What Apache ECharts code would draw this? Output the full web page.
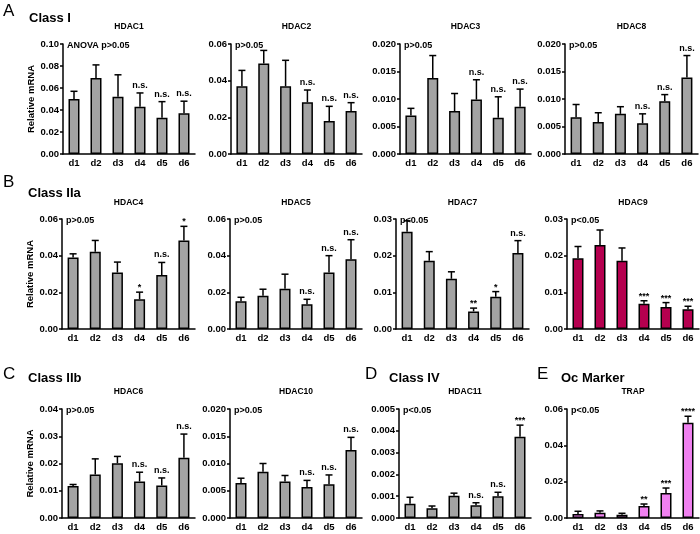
<!DOCTYPE html>
<html><head><meta charset="utf-8">
<script src="https://cdn.jsdelivr.net/npm/echarts@6/dist/echarts.min.js"></script>
<style>html,body{margin:0;padding:0;background:#fff}#c{width:700px;height:534px}</style>
</head><body><div id="c"></div><script>
const days = ['d1','d2','d3','d4','d5','d6'];

const hdac1Mean = [0.050, 0.069, 0.052, 0.043, 0.033, 0.037];
const hdac1Sem  = [0.007, 0.012, 0.020, 0.0125, 0.0146, 0.011];
const hdac1Sig  = ['', '', '', 'n.s.', 'n.s.', 'n.s.'];

const hdac2Mean = [0.0369, 0.0493, 0.0369, 0.0282, 0.018, 0.0235];
const hdac2Sem  = [0.0087, 0.0072, 0.0142, 0.0067, 0.008, 0.0045];
const hdac2Sig  = ['', '', '', 'n.s.', 'n.s.', 'n.s.'];

const hdac3Mean = [0.0070, 0.0138, 0.0078, 0.0099, 0.0066, 0.0086];
const hdac3Sem  = [0.0013, 0.0041, 0.0032, 0.0036, 0.0038, 0.0032];
const hdac3Sig  = ['', '', '', 'n.s.', 'n.s.', 'n.s.'];

const hdac8Mean = [0.0067, 0.0058, 0.0073, 0.0056, 0.0096, 0.0139];
const hdac8Sem  = [0.0023, 0.0017, 0.0013, 0.0017, 0.0012, 0.0040];
const hdac8Sig  = ['', '', '', 'n.s.', 'n.s.', 'n.s.'];

const hdac4Mean = [0.0390, 0.0421, 0.0308, 0.0162, 0.0294, 0.0483];
const hdac4Sem  = [0.0020, 0.0062, 0.0057, 0.0039, 0.0069, 0.0077];
const hdac4Sig  = ['', '', '', '*', 'n.s.', '*'];

const hdac5Mean = [0.0151, 0.0182, 0.0219, 0.0135, 0.0308, 0.0381];
const hdac5Sem  = [0.0022, 0.0035, 0.0080, 0.0027, 0.0092, 0.0106];
const hdac5Sig  = ['', '', '', 'n.s.', 'n.s.', 'n.s.'];

const hdac7Mean = [0.0265, 0.0186, 0.0137, 0.0048, 0.0088, 0.0207];
const hdac7Sem  = [0.0030, 0.0025, 0.0019, 0.0009, 0.0014, 0.0034];
const hdac7Sig  = ['', '', '', '**', '*', 'n.s.'];

const hdac9Mean = [0.0193, 0.0229, 0.0186, 0.0069, 0.0060, 0.0054];
const hdac9Sem  = [0.0032, 0.0041, 0.0035, 0.0008, 0.0012, 0.0008];
const hdac9Sig  = ['', '', '', '***', '***', '***'];

const hdac6Mean = [0.0117, 0.0160, 0.0201, 0.0134, 0.0119, 0.0221];
const hdac6Sem  = [0.0006, 0.0057, 0.0025, 0.0034, 0.0028, 0.0087];
const hdac6Sig  = ['', '', '', 'n.s.', 'n.s.', 'n.s.'];

const hdac10Mean = [0.0064, 0.0085, 0.0067, 0.0057, 0.0062, 0.0125];
const hdac10Sem  = [0.0009, 0.0015, 0.0011, 0.0012, 0.0017, 0.0023];
const hdac10Sig  = ['', '', '', 'n.s.', 'n.s.', 'n.s.'];

const hdac11Mean = [0.00065, 0.00045, 0.00102, 0.00058, 0.00100, 0.00373];
const hdac11Sem  = [0.00030, 0.00010, 0.00012, 0.00012, 0.00018, 0.00053];
const hdac11Sig  = ['', '', '', 'n.s.', 'n.s.', '***'];

const trapMean = [0.0022, 0.0029, 0.0018, 0.0066, 0.0138, 0.0525];
const trapSem  = [0.0015, 0.0010, 0.0008, 0.0011, 0.0027, 0.0035];
const trapSig  = ['', '', '', '**', '***', '****'];

const GRAY = '#a3a3a3', CRIMSON = '#b5004f', VIOLET = '#ef80ef';
const FONT = "'Liberation Sans', Arial, sans-serif";

const panels = [
  {name:'HDAC1', mean:hdac1Mean, sem:hdac1Sem, sig:hdac1Sig, stat:'ANOVA p>0.05', max:0.10, interval:0.02, dec:2, color:GRAY, ylab:true},
  {name:'HDAC2', mean:hdac2Mean, sem:hdac2Sem, sig:hdac2Sig, stat:'p>0.05', max:0.06, interval:0.02, dec:2, color:GRAY},
  {name:'HDAC3', mean:hdac3Mean, sem:hdac3Sem, sig:hdac3Sig, stat:'p>0.05', max:0.020, interval:0.005, dec:3, color:GRAY},
  {name:'HDAC8', mean:hdac8Mean, sem:hdac8Sem, sig:hdac8Sig, stat:'p>0.05', max:0.020, interval:0.005, dec:3, color:GRAY},
  {name:'HDAC4', mean:hdac4Mean, sem:hdac4Sem, sig:hdac4Sig, stat:'p>0.05', max:0.06, interval:0.02, dec:2, color:GRAY, ylab:true},
  {name:'HDAC5', mean:hdac5Mean, sem:hdac5Sem, sig:hdac5Sig, stat:'p>0.05', max:0.06, interval:0.02, dec:2, color:GRAY},
  {name:'HDAC7', mean:hdac7Mean, sem:hdac7Sem, sig:hdac7Sig, stat:'p<0.05', max:0.03, interval:0.01, dec:2, color:GRAY},
  {name:'HDAC9', mean:hdac9Mean, sem:hdac9Sem, sig:hdac9Sig, stat:'p<0.05', max:0.03, interval:0.01, dec:2, color:CRIMSON},
  {name:'HDAC6', mean:hdac6Mean, sem:hdac6Sem, sig:hdac6Sig, stat:'p>0.05', max:0.04, interval:0.01, dec:2, color:GRAY, ylab:true},
  {name:'HDAC10', mean:hdac10Mean, sem:hdac10Sem, sig:hdac10Sig, stat:'p>0.05', max:0.020, interval:0.005, dec:3, color:GRAY},
  {name:'HDAC11', mean:hdac11Mean, sem:hdac11Sem, sig:hdac11Sig, stat:'p<0.05', max:0.005, interval:0.001, dec:3, color:GRAY},
  {name:'TRAP', mean:trapMean, sem:trapSem, sig:trapSig, stat:'p<0.05', max:0.06, interval:0.02, dec:2, color:VIOLET}
];

const layout = [
  {left:63, top:44, width:132, height:110, ty:27},
  {left:231, top:44, width:131, height:110, ty:27},
  {left:400, top:44, width:131, height:110, ty:27},
  {left:565, top:44, width:133, height:110, ty:27},
  {left:62, top:219, width:133, height:110, ty:203},
  {left:230, top:219, width:132, height:110, ty:203},
  {left:396, top:219, width:133, height:110, ty:203},
  {left:567, top:219, width:132, height:110, ty:203},
  {left:62, top:409, width:133, height:109, ty:392},
  {left:230, top:409, width:132, height:109, ty:392},
  {left:399, top:409, width:132, height:109, ty:392},
  {left:567, top:409, width:132, height:109, ty:392}
];

const headings = [
  {t:'A', x:3, y:11, size:17, w:'normal'},
  {t:'Class I', x:29, y:18, size:13, w:'bold'},
  {t:'B', x:3, y:182, size:17, w:'normal'},
  {t:'Class IIa', x:28, y:193, size:13, w:'bold'},
  {t:'C', x:3, y:374, size:17, w:'normal'},
  {t:'Class IIb', x:28, y:378, size:13, w:'bold'},
  {t:'D', x:365, y:374, size:17, w:'normal'},
  {t:'Class IV', x:389, y:378, size:13, w:'bold'},
  {t:'E', x:537, y:374, size:17, w:'normal'},
  {t:'Oc Marker', x:561, y:378, size:13, w:'bold'}
];

const grids = [], xAxes = [], yAxes = [], series = [], graphics = [];

headings.forEach(h => graphics.push({type:'text', x:h.x, y:h.y, silent:true,
  style:{text:h.t, fill:'#000', fontFamily:FONT, fontSize:h.size, fontWeight:h.w, align:'left', verticalAlign:'middle'}}));

panels.forEach((p, k) => {
  const L = layout[k];
  grids.push({left:L.left, top:L.top, width:L.width, height:L.height, containLabel:false});
  xAxes.push({type:'category', gridIndex:k, data:days, boundaryGap:true,
    axisLine:{show:true, lineStyle:{color:'#000', width:1.5}},
    axisTick:{show:false},
    axisLabel:{color:'#000', fontFamily:FONT, fontWeight:'bold', fontSize:9.5, margin:4, interval:0}});
  yAxes.push({type:'value', gridIndex:k, min:0, max:p.max, interval:p.interval,
    name: p.ylab ? 'Relative mRNA' : '', nameLocation:'middle', nameGap:25,
    nameTextStyle:{color:'#000', fontFamily:FONT, fontWeight:'bold', fontSize:9.5},
    axisLine:{show:true, lineStyle:{color:'#000', width:1.5}},
    axisTick:{show:true, length:3, lineStyle:{color:'#000', width:1.5}},
    splitLine:{show:false},
    axisLabel:{color:'#000', fontFamily:FONT, fontWeight:'bold', fontSize:9.5, margin:4,
      formatter: v => v.toFixed(p.dec)}});
  series.push({type:'bar', xAxisIndex:k, yAxisIndex:k, data:p.mean, barWidth:11,
    itemStyle:{color:p.color, borderColor:'#000', borderWidth:1.5}, silent:true, animation:false});
  series.push({type:'custom', xAxisIndex:k, yAxisIndex:k, z:5, silent:true, animation:false,
    data: p.mean.map((m, i) => [i, m, p.sem[i]]),
    renderItem: function(params, api){
      const i = api.value(0), m = api.value(1), s = api.value(2);
      const b = api.coord([i, m]), t = api.coord([i, m + s]);
      const cap = 3.5;
      const ch = [
        {type:'line', shape:{x1:b[0], y1:b[1], x2:t[0], y2:t[1]}, style:{stroke:'#000', lineWidth:1.5}},
        {type:'line', shape:{x1:t[0]-cap, y1:t[1], x2:t[0]+cap, y2:t[1]}, style:{stroke:'#000', lineWidth:1.5}}
      ];
      const sg = p.sig[i];
      if (sg) {
        const star = sg.indexOf('*') >= 0;
        ch.push({type:'text', style:{text:sg, x:t[0], y:t[1] - (star ? 0 : 3), align:'center', verticalAlign:'bottom',
          fill:'#000', fontFamily:FONT, fontWeight:'bold', fontSize:9}});
      }
      return {type:'group', children:ch};
    }});
  graphics.push({type:'text', x:L.left + L.width/2, y:L.ty, silent:true,
    style:{text:p.name, fill:'#000', fontFamily:FONT, fontSize:8.5, fontWeight:'bold', align:'center', verticalAlign:'middle'}});
  graphics.push({type:'text', x:L.left + 4, y:L.top + 2, silent:true,
    style:{text:p.stat, fill:'#000', fontFamily:FONT, fontSize:9, fontWeight:'bold', align:'left', verticalAlign:'middle'}});
});

const chart = echarts.init(document.getElementById('c'), null, {renderer:'canvas'});
chart.setOption({backgroundColor:'#fff', animation:false, grid:grids, xAxis:xAxes, yAxis:yAxes, series:series, graphic:graphics});
</script></body></html>
